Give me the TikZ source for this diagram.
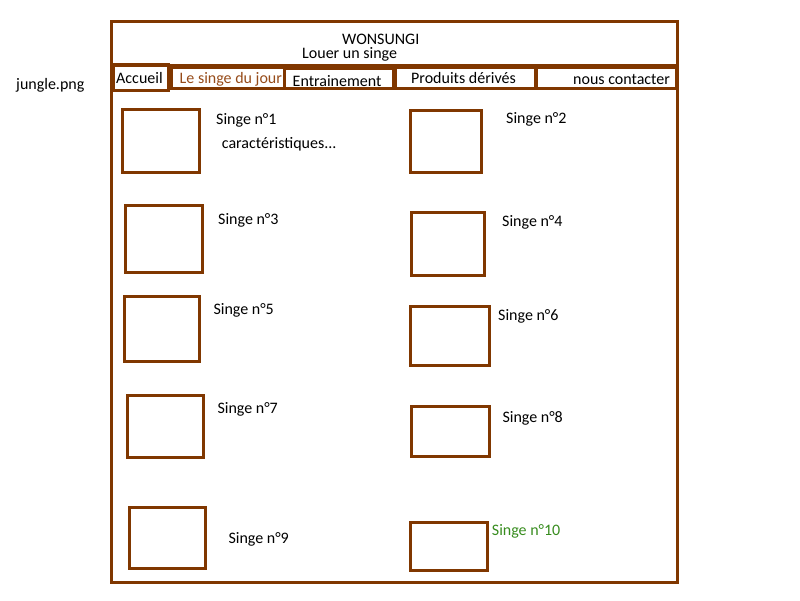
\documentclass[tikz,border=0pt]{standalone}
\usepackage{fontspec}
\setmainfont{Carlito}
\definecolor{marron}{RGB}{128,55,0}
\definecolor{marronclair}{RGB}{150,75,25}
\definecolor{vert}{RGB}{55,140,30}

\begin{document}
\begin{tikzpicture}[
            x=1pt,y=-1pt,
            every node/.style={font=\fontsize{16}{19}\selectfont,inner sep=0pt},
            cadre/.style={draw=marron,line width=3pt},
            lbl/.style={anchor=base west}
        ]
        \useasboundingbox (0,0) rectangle (800,600);
        \node[cadre,minimum width=565.8pt,minimum height=561.2pt] (page) at (394.4,301.9) {};
        \node[cadre,minimum width=565.8pt,minimum height=44pt,anchor=north west] (entete) at (page.north west) {};
        \node[lbl] (titre) at (342,44.3) {WONSUNGI};
        \node[lbl] (soustitre) at (302,58.3) {Louer un singe};
        \node[lbl] (jungle) at (16,89) {jungle.png};
        % menu
        \node[cadre,minimum width=55.5pt,minimum height=26pt] (accueil) at (140.8,77.8) {};
        \node[cadre,minimum width=113pt,minimum height=21pt] (jour) at (227.5,78) {};
        \node[cadre,minimum width=109.3pt,minimum height=20pt] (entrainement) at (339.3,78.8) {};
        \node[cadre,minimum width=139.5pt,minimum height=21pt] (produits) at (465.3,78) {};
        \node[cadre,minimum width=139.5pt,minimum height=21pt] (contact) at (606.5,78) {};
        \node[lbl] at (116,83) {Accueil};
        \node[lbl,text=marronclair] at (179.5,83.5) {Le singe du jour};
        \node[lbl] at (292.5,86) {Entrainement};
        \node[lbl] at (411,83.5) {Produits dérivés};
        \node[lbl] at (573,84) {nous contacter};
        % singes
        \foreach \i/\cx/\cy/\w/\h in {1/161.3/141/77.3/62.6, 2/445.5/141/71/62,
                3/163.5/238.7/77/67.3, 4/447.5/244/73/63.4, 5/162.3/329/74.7/65.4,
                6/450.3/336/78.7/59.4, 7/165.8/426.2/76.3/62.3, 8/450/431.2/78/50.3,
                9/167/537.8/76/61, 10/448.5/546/77/48}
            \node[cadre,minimum width=\w pt,minimum height=\h pt] (photo\i) at (\cx,\cy) {};
        \foreach \i/\lx/\ly in {1/216/124, 2/506/123, 3/218/224.3, 4/502/226,
                5/213.3/314, 6/498/320, 7/217.3/413.3, 8/502.3/422.3, 9/228.3/543.3}
            \node[lbl] (singe\i) at (\lx,\ly) {Singe n°\i};
        \node[lbl,text=vert] (singe10) at (491.7,535.7) {Singe n°10};
        \node[lbl] (carac) at (221.7,148.3) {caractéristiques...};
        \end{tikzpicture}
\end{document}
